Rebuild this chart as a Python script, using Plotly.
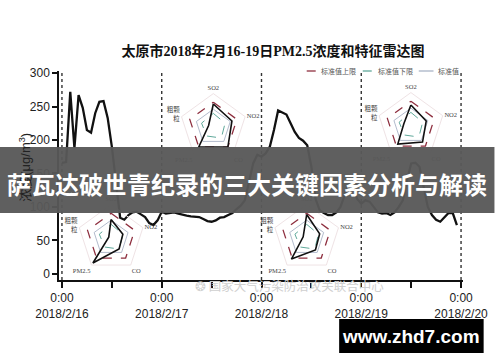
import plotly.graph_objects as go

# ---------------- data ----------------
HOURS = list(range(96))  # hours since 2018/2/16 0:00
PM25 = [166, 167, 272, 188, 267, 248, 215, 211, 240, 257, 258, 233,
        190, 140, 84, 81, 88, 92, 93, 89, 85, 76, 73, 80,
        93, 90, 91, 92, 90, 88, 87, 86, 86, 85, 82, 79,
        78, 80, 84, 85, 88, 91, 97, 102, 110, 140, 165, 178,
        175, 180, 190, 215, 244, 241, 238, 225, 212, 203, 199, 192,
        160, 112, 95, 91, 88, 88, 92, 100, 118, 135, 130, 112,
        105, 110, 108, 100, 92, 90, 91, 88, 92, 100, 110, 140,
        165, 166, 160, 130, 100, 88, 81, 78, 84, 91, 91, 73]

TICK_VALS = [0, 24, 48, 72, 96]
TICK_TEXT = ["0:00<br>2018/2/16", "0:00<br>2018/2/17", "0:00<br>2018/2/18",
             "0:00<br>2018/2/19", "0:00<br>2018/2/20"]
Y_TICKS = [0, 50, 100, 150, 200, 250, 300]

RADAR_CATS = ["SO2", "NO2", "CO", "PM2.5", "粗颗<br>粒"]
RADAR_UPPER = [1.0, 1.0, 1.0, 1.0, 1.0]
RADAR_STD = [0.72, 0.72, 0.72, 0.72, 0.72]
RADAR_LOWER = [0.55, 0.5, 0.55, 0.45, 0.5]
RADAR_DATA = [
    [0.93, 0.79, 1.0, 1.0, 0.2],
    [0.85, 0.65, 0.8, 0.9, 0.3],
    [0.75, 0.5, 0.55, 1.25, 0.1],
    [0.95, 0.55, 0.6, 1.05, 0.15],
]

TITLE = "太原市2018年2月16-19日PM2.5浓度和特征雷达图"
YTITLE = "浓度(μg/m<sup>3</sup>)"
LEGEND_LABELS = ["标准值上限", "标准值下限", "标准值"]
BANNER = "萨瓦达破世青纪录的三大关键因素分析与解读"
WATERMARK = "国家大气污染防治攻关联合中心"
SITE = "www.zhd7.com"

# ---------------- layout helpers ----------------
W, H = 500, 362
L, R, T, B = 59, 470, 71, 280
PW, PH = R - L, B - T


def px_x(p):
    return (p - L) / PW


def px_y(p):
    return (B - p) / PH


RED = "#8e2f3f"
TEAL = "#5fa89a"
GREYB = "#a9b3c6"
SERIF = "Liberation Serif, Noto Sans CJK SC"

fig = go.Figure()

fig.add_trace(go.Scatter(x=HOURS, y=PM25, mode="lines",
                         line=dict(color="#111111", width=2.3),
                         showlegend=False, hoverinfo="skip"))

# radar insets
centers = [(216, 127), (417, 126), (112, 238), (311, 238)]
rad = 34
polar_layouts = {}
for i, ((cx, cy), data) in enumerate(zip(centers, RADAR_DATA)):
    key = "polar" if i == 0 else f"polar{i+1}"
    for vals, col, dash, wdt in [(RADAR_STD, GREYB, "solid", 0.9),
                                 (RADAR_LOWER, TEAL, "dash", 1.0),
                                 (RADAR_UPPER, RED, "dash", 1.3),
                                 (data, "#111111", "solid", 1.6)]:
        fig.add_trace(go.Scatterpolar(
            r=vals + [vals[0]], theta=RADAR_CATS + [RADAR_CATS[0]],
            subplot=key, mode="lines",
            line=dict(color=col, dash=dash, width=wdt),
            showlegend=False, hoverinfo="skip"))
    polar_layouts[key] = dict(
        domain=dict(x=[px_x(cx - rad), px_x(cx + rad)],
                    y=[px_y(cy + rad), px_y(cy - rad)]),
        bgcolor="rgba(0,0,0,0)",
        gridshape="linear",
        radialaxis=dict(range=[0, 1.35], visible=False),
        angularaxis=dict(type="category", categoryarray=RADAR_CATS,
                         rotation=90, direction="clockwise",
                         showgrid=False, showline=True,
                         linecolor="#efe3e5", linewidth=1, ticks="",
                         tickfont=dict(size=6.5, family=SERIF, color="#444444")),
    )
fig.update_layout(**polar_layouts)

shapes = []
# dotted day separators
for v in TICK_VALS:
    shapes.append(dict(type="line", xref="x", yref="paper", x0=v, x1=v,
                       y0=0, y1=1, line=dict(color="#333333", width=1.4, dash="dot"),
                       layer="below"))

# legend
leg_y = px_y(71)
leg_items = [(311, 322, 324, RED, "dash"), (368, 380, 382, TEAL, "dash"),
             (425, 440, 443, GREYB, "solid")]
annotations = []
for (x0, x1, xt, col, dash), lab in zip(leg_items, LEGEND_LABELS):
    shapes.append(dict(type="line", xref="paper", yref="paper",
                       x0=px_x(x0), x1=px_x(x1), y0=leg_y, y1=leg_y,
                       line=dict(color=col, width=1.3, dash=dash)))
    annotations.append(dict(xref="paper", yref="paper", x=px_x(xt), y=leg_y,
                            text=lab, showarrow=False, xanchor="left",
                            yanchor="middle",
                            font=dict(size=7, color="#555555",
                                      family="Noto Sans CJK SC")))

# faint watermark
annotations.append(dict(xref="paper", yref="paper", x=px_x(392), y=px_y(297),
                        text="\u2742 " + WATERMARK, showarrow=False,
                        font=dict(size=12.5, color="#cfcfcf",
                                  family="Noto Sans CJK SC")))

# y axis title
annotations.append(dict(xref="paper", yref="paper", x=px_x(14), y=px_y(167),
                        text=YTITLE, textangle=-90, showarrow=False,
                        font=dict(size=13, color="#222222",
                                  family="Liberation Sans, Noto Sans CJK SC")))

# banner overlay
shapes.append(dict(type="rect", xref="paper", yref="paper",
                   x0=px_x(-2), x1=px_x(502), y0=px_y(213), y1=px_y(147),
                   fillcolor="rgba(88,88,88,0.96)", line=dict(width=0),
                   layer="above"))
annotations.append(dict(xref="paper", yref="paper", x=px_x(250), y=px_y(183),
                        text=BANNER, showarrow=False, xanchor="center",
                        yanchor="middle",
                        font=dict(size=24, color="white",
                                  family="Noto Sans CJK SC", weight="bold")))

# site box
shapes.append(dict(type="rect", xref="paper", yref="paper",
                   x0=px_x(344), x1=px_x(491), y0=px_y(353), y1=px_y(319),
                   fillcolor="black", line=dict(width=0), layer="above"))
annotations.append(dict(xref="paper", yref="paper", x=px_x(417), y=px_y(336),
                        text=SITE, showarrow=False, xanchor="center",
                        yanchor="middle",
                        font=dict(size=19, color="white",
                                  family="Liberation Sans", weight="bold")))

fig.update_layout(
    width=W, height=H,
    margin=dict(l=L, r=W - R, t=T, b=H - B, pad=0),
    paper_bgcolor="white", plot_bgcolor="white",
    showlegend=False,
    title=dict(text=TITLE, x=273 / W, xanchor="center", y=1 - 51 / H,
               yanchor="middle",
               font=dict(size=14, color="#111111", family=SERIF, weight="bold")),
    xaxis=dict(range=[-0.71, 96.47], tickvals=TICK_VALS, ticktext=TICK_TEXT,
               showgrid=False, zeroline=False, showline=True,
               linecolor="#111111", linewidth=1.5,
               ticks="outside", ticklen=6, tickwidth=1.5, tickcolor="#111111",
               minor=dict(dtick=12, tick0=0, ticks="outside", ticklen=6,
                          tickwidth=1.5, tickcolor="#111111", showgrid=False),
               tickfont=dict(size=12, color="#222222", family="Liberation Sans")),
    yaxis=dict(range=[-9, 303], tickvals=Y_TICKS,
               showgrid=False, zeroline=False, showline=True,
               linecolor="#111111", linewidth=1.5,
               ticks="outside", ticklen=5, tickwidth=1.5, tickcolor="#111111",
               tickfont=dict(size=12, color="#222222", family="Liberation Sans")),
    shapes=shapes,
    annotations=annotations,
)

fig.write_html("out.html")
